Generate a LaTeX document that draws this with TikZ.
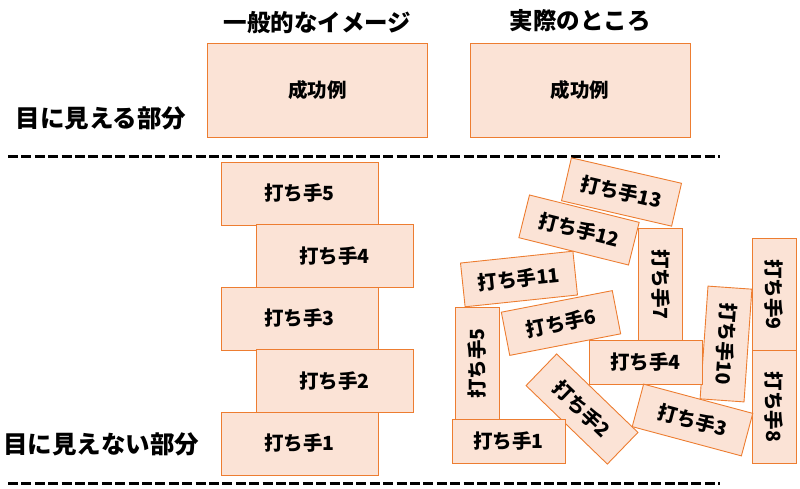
\documentclass[tikz,border=0pt]{standalone}
\usepackage{fontspec}
\setmainfont{Noto Sans CJK JP}
\usetikzlibrary{positioning}

\definecolor{boxfill}{HTML}{FBE3D6}
\definecolor{boxline}{HTML}{ED7D31}

\begin{document}
\begin{tikzpicture}[
  x=1pt, y=-1pt,
  bat/.style={draw=boxline, fill=boxfill, line width=0.9pt, inner sep=0pt,
    minimum width=113pt, minimum height=44pt, font=\fontsize{19.5}{22}\selectfont\bfseries},
  batbig/.style={bat, minimum width=157pt, minimum height=63pt},
  okbox/.style={bat, minimum width=220pt, minimum height=94pt},
  head/.style={font=\fontsize{23.5}{28}\selectfont\bfseries},
  side/.style={font=\fontsize{24.5}{29}\selectfont\bfseries},
  sep/.style={line width=3pt, dash pattern=on 10pt off 3.4pt},
]
\useasboundingbox (0,0) rectangle (800,488);

% top row
\node[okbox] (okL) at (317.5,90) {成功例};
\node[okbox] (okR) at (580,90) {成功例};
\node[head, above=5pt of okL] (tL) {一般的なイメージ};
\node[head, above=7pt of okR] (tR) {実際のところ};
\node[side] (vis) at (101,118) {目に見える部分};
\node[side] (invis) at (101,444) {目に見えない部分};

% separators
\coordinate (s1a) at (8,156);
\coordinate (s1b) at (720,156);
\coordinate (s2a) at (8,483);
\coordinate (s2b) at (720,483);
\draw[sep] (s1a) -- (s1b);
\draw[sep] (s2a) -- (s2b);

% image: neat stack
\node[batbig] (l5) at (299.5,193.5) {打ち手5};
\node[batbig] (l4) at (334.5,256) {打ち手4};
\node[batbig] (l3) at (299.5,318.5) {打ち手3};
\node[batbig] (l2) at (334.5,381) {打ち手2};
\node[batbig] (l1) at (299.5,443.5) {打ち手1};

% reality: messy pile
\node[bat, rotate=-13] (r13) at (621.5,192) {打ち手13};
\node[bat, rotate=-14] (r12) at (579,230) {打ち手12};
\node[bat, rotate=6] (r11) at (519,279) {打ち手11};
\node[bat, rotate=-90] (r7) at (660.5,284.5) {打ち手7};
\node[bat, rotate=-90] (r9) at (774,294.5) {打ち手9};
\node[bat, rotate=-90] (r8) at (774,407) {打ち手8};
\node[bat, rotate=-94] (r10) at (726,344) {打ち手10};
\node[bat, rotate=11] (r6) at (561,323) {打ち手6};
\node[bat, rotate=90] (r5) at (477,363.5) {打ち手5};
\node[bat] (r4) at (645.5,362) {打ち手4};
\node[bat, rotate=-15] (r3) at (692.5,420) {打ち手3};
\node[bat, rotate=-44] (r2) at (582,409) {打ち手2};
\node[bat] (r1) at (508.5,441.5) {打ち手1};
\end{tikzpicture}
\end{document}
